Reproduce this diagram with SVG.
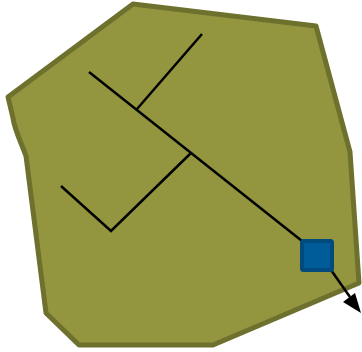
<svg xmlns="http://www.w3.org/2000/svg" width="362" height="352" viewBox="0 0 362 352">
<style>
.ln{stroke:#000;stroke-width:2.5;fill:none;stroke-linecap:butt;stroke-linejoin:miter}
</style>
<g id="area">
<path d="M133,4 L316,26 L350,152 L359,283 L213,345 L79,345 L46,313 L26,156 C20,140 14,128 13,118 L8,97 Z" fill="#93963f" stroke="#6e702d" stroke-width="5" stroke-linejoin="round"/>
</g>
<g id="connectors">
<polyline class="ln" points="89,72 302,241"/>
<polyline class="ln" points="137,109 202,34"/>
<polyline class="ln" points="191,153 111,231 61,186"/>
<line class="ln" x1="331" y1="270" x2="350" y2="297"/>
<polygon points="361,313 343,302 355,293" fill="#000"/>
</g>
<g id="outlet">
<rect x="302" y="241" width="30" height="29" rx="1.5" fill="#005c99" stroke="#004a7c" stroke-width="4"/>
</g>
</svg>
